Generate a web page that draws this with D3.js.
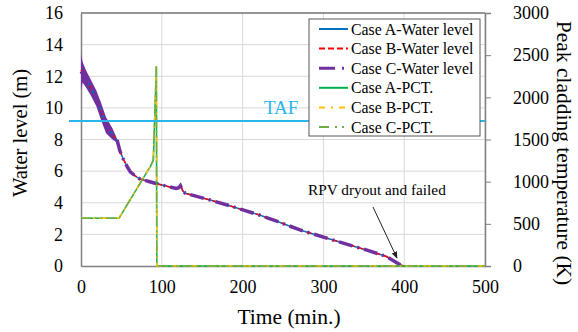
<!DOCTYPE html>
<html lang="en">
<head>
<meta charset="UTF-8">
<title>Water level and PCT</title>
<script src="https://cdn.jsdelivr.net/npm/d3@7/dist/d3.min.js"></script>
<style>
  body { margin: 0; background: #fff; }
  svg text { font-family: "Liberation Serif", "Times New Roman", serif; }
</style>
</head>
<body>
<script>
// water level (m)
var waterTime  = [0, 6, 12, 19, 25, 31, 39, 45, 48, 52, 57, 61, 67, 73, 85, 94, 110, 118, 121, 123, 126, 129, 160, 188, 221, 244, 271, 312, 354, 378, 396, 400];
var waterA     = [12.3, 11.9, 11.3, 10.6, 9.8, 8.9, 8.35, 7.9, 7.3, 6.8, 6.3, 5.95, 5.7, 5.5, 5.33, 5.2, 5.0, 4.9, 4.95, 5.08, 4.75, 4.6, 4.17, 3.75, 3.22, 2.8, 2.28, 1.64, 1.0, 0.6, 0.05, 0];
var waterB     = [12.4, 11.9, 11.3, 10.6, 9.8, 8.9, 8.35, 7.9, 7.3, 6.8, 6.3, 5.95, 5.7, 5.5, 5.33, 5.2, 5.0, 4.9, 4.95, 5.1, 4.75, 4.6, 4.17, 3.75, 3.22, 2.8, 2.28, 1.64, 1.0, 0.6, 0.05, 0];
var waterC     = [12.3, 11.9, 11.3, 10.6, 9.8, 8.9, 8.35, 7.9, 7.3, 6.8, 6.3, 5.95, 5.7, 5.5, 5.33, 5.2, 5.0, 4.9, 4.95, 5.08, 4.75, 4.6, 4.17, 3.75, 3.22, 2.8, 2.28, 1.64, 1.0, 0.6, 0.05, 0];

// oscillation band of the early water level (case C)
var bandTime  = [0, 2, 6, 12, 19, 25, 31, 39, 45];
var bandUpper = [13.4, 12.9, 12.4, 11.8, 11.1, 10.3, 9.4, 8.7, 8.0];
var bandLower = [11.1, 11.6, 11.3, 10.8, 10.1, 9.2, 8.4, 8.0, 7.8];

// peak cladding temperature (K)
var pctTime = [0, 47, 83, 86.5, 89.5, 93.3, 93.8, 500];
var pctA    = [566, 566, 1138, 1190, 1257, 2370, 0, 0];
var pctB    = [566, 566, 1138, 1190, 1257, 2370, 0, 0];
var pctC    = [566, 566, 1138, 1190, 1257, 2370, 0, 0];

var tafLevel = 9.17;
var xTicks = [0, 100, 200, 300, 400, 500];
var yTicks = [0, 2, 4, 6, 8, 10, 12, 14, 16];
var y2Ticks = [0, 500, 1000, 1500, 2000, 2500, 3000];

var legendNames = ["Case A-Water level", "Case B-Water level", "Case C-Water level",
                   "Case A-PCT.", "Case B-PCT.", "Case C-PCT."];

var width = 578, height = 332;
var plotL = 81, plotR = 485, plotT = 13, plotB = 266;

var svg = d3.select("body").append("svg")
    .attr("width", width)
    .attr("height", height);

var x = d3.scaleLinear().domain([0, 500]).range([plotL, plotR]);
var y = d3.scaleLinear().domain([0, 16]).range([plotB, plotT]);
var y2 = d3.scaleLinear().domain([0, 3000]).range([plotB, plotT]);

// grid
svg.append("g").selectAll("line").data(yTicks.slice(1)).enter().append("line")
    .attr("x1", plotL).attr("x2", plotR)
    .attr("y1", function (d) { return y(d); })
    .attr("y2", function (d) { return y(d); })
    .attr("stroke", "#d9d9d9").attr("stroke-width", 1);
svg.append("g").selectAll("line").data(xTicks.slice(1)).enter().append("line")
    .attr("y1", plotT).attr("y2", plotB)
    .attr("x1", function (d) { return x(d); })
    .attr("x2", function (d) { return x(d); })
    .attr("stroke", "#d9d9d9").attr("stroke-width", 1);

// frame
svg.append("line").attr("x1", plotL).attr("x2", plotR).attr("y1", plotT).attr("y2", plotT)
    .attr("stroke", "#404040").attr("stroke-width", 1);

// axes
var xAxis = svg.append("g")
    .attr("transform", "translate(0," + plotB + ")")
    .call(d3.axisBottom(x).tickValues(xTicks).tickSize(0).tickPadding(14));
var yAxis = svg.append("g")
    .attr("transform", "translate(" + plotL + ",0)")
    .call(d3.axisLeft(y).tickValues(yTicks).tickSize(0).tickPadding(18));
var y2Axis = svg.append("g")
    .attr("transform", "translate(" + plotR + ",0)")
    .call(d3.axisRight(y2).tickValues(y2Ticks).tickFormat(d3.format("d")).tickSize(6).tickPadding(20));

[xAxis, yAxis, y2Axis].forEach(function (g) {
    g.attr("font-family", null);
    g.select(".domain").attr("stroke", "#808080").attr("stroke-width", 1.5);
    g.selectAll(".tick line").attr("stroke", "#808080");
    g.selectAll("text").attr("font-size", 18).attr("fill", "#000");
});
y2Axis.selectAll("text").attr("x", 28);

// axis titles
svg.append("text").attr("x", 289).attr("y", 324).attr("text-anchor", "middle")
    .attr("font-size", 21.5).text("Time (min.)");
svg.append("text").attr("transform", "translate(27,133) rotate(-90)")
    .attr("text-anchor", "middle").attr("font-size", 20.5).text("Water level (m)");
svg.append("text").attr("transform", "translate(557,153) rotate(90)")
    .attr("text-anchor", "middle").attr("font-size", 21.5).text("Peak cladding temperature (K)");

function zip(ts, vs) {
    return ts.map(function (t, i) { return [t, vs[i]]; });
}

var waterLine = d3.line().x(function (d) { return x(d[0]); }).y(function (d) { return y(d[1]); });
var pctLine = d3.line().x(function (d) { return x(d[0]); }).y(function (d) { return y2(d[1]); });

// early oscillation band
var band = d3.area()
    .x(function (d) { return x(d.t); })
    .y0(function (d) { return y(d.lo); })
    .y1(function (d) { return y(d.hi); });
svg.append("path")
    .datum(bandTime.map(function (t, i) { return {t: t, hi: bandUpper[i], lo: bandLower[i]}; }))
    .attr("d", band)
    .attr("fill", "#7030a0");

var series = [
    {data: zip(waterTime, waterA), gen: waterLine, color: "#0070c0", w: 1.5, dash: null},
    {data: zip(waterTime, waterB), gen: waterLine, color: "#ff0000", w: 1.5, dash: "5,4"},
    {data: zip(waterTime, waterC), gen: waterLine, color: "#7030a0", w: 3.5, dash: "14,5,2,5"},
    {data: zip(pctTime, pctA), gen: pctLine, color: "#00b050", w: 1.5, dash: null},
    {data: zip(pctTime, pctB), gen: pctLine, color: "#ffc000", w: 1.5, dash: "8,4,2,4"},
    {data: zip(pctTime, pctC), gen: pctLine, color: "#70ad47", w: 1.5, dash: "10,4,2,3,2,4"}
];

series.forEach(function (s) {
    svg.append("path")
        .datum(s.data)
        .attr("d", s.gen)
        .attr("fill", "none")
        .attr("stroke", s.color)
        .attr("stroke-width", s.w)
        .attr("stroke-dasharray", s.dash);
});

// TAF
svg.append("line")
    .attr("x1", 69).attr("x2", plotR)
    .attr("y1", y(tafLevel)).attr("y2", y(tafLevel))
    .attr("stroke", "#29b6e8").attr("stroke-width", 2);
svg.append("text").attr("x", 264).attr("y", 114)
    .attr("font-size", 19).attr("fill", "#29b6e8").text("TAF");

// annotation
svg.append("defs").append("marker")
    .attr("id", "arrow").attr("viewBox", "0 0 10 10")
    .attr("refX", 9).attr("refY", 5)
    .attr("markerWidth", 7).attr("markerHeight", 7)
    .attr("orient", "auto")
    .append("path").attr("d", "M0,1 L10,5 L0,9 Z").attr("fill", "#222");
svg.append("text").attr("x", 308).attr("y", 195)
    .attr("font-size", 15.3).text("RPV dryout and failed");
svg.append("line")
    .attr("x1", 373).attr("y1", 207).attr("x2", 397).attr("y2", 258)
    .attr("stroke", "#222").attr("stroke-width", 1)
    .attr("marker-end", "url(#arrow)");

// legend
var legend = svg.append("g");
legend.append("rect")
    .attr("x", 309).attr("y", 19).attr("width", 171).attr("height", 117)
    .attr("fill", "#fff").attr("stroke", "#595959").attr("stroke-width", 1);
legendNames.forEach(function (name, i) {
    var ly = 29 + i * 19.6;
    var s = series[i];
    legend.append("line")
        .attr("x1", 319).attr("x2", 348).attr("y1", ly).attr("y2", ly)
        .attr("stroke", s.color)
        .attr("stroke-width", i === 2 ? 3 : 2)
        .attr("stroke-dasharray", i === 1 ? "6,3" : i === 2 ? "16,7,2,7" : i === 4 ? "6,6,2,6" : i === 5 ? "10,6,2,5,2,6" : null);
    legend.append("text")
        .attr("x", 351).attr("y", ly + 5.5)
        .attr("font-size", 15.8).text(name);
});
</script>
</body>
</html>
